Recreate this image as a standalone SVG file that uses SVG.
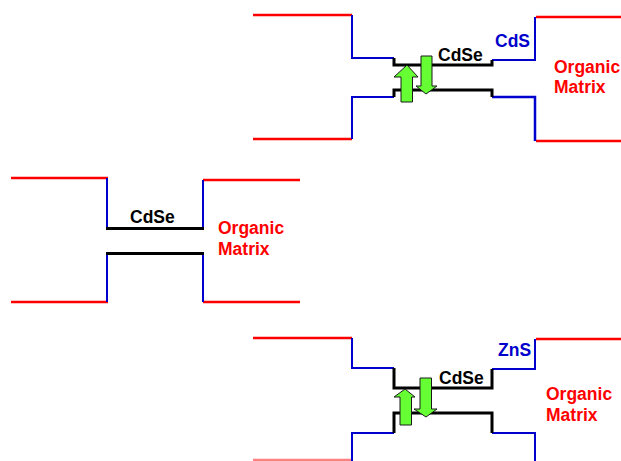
<svg xmlns="http://www.w3.org/2000/svg" width="621" height="461" viewBox="0 0 621 461">
<style>
.r{fill:none;stroke:#ff0000;stroke-width:2.5}
.b{fill:none;stroke:#0000cc;stroke-width:2;stroke-linejoin:miter}
.k{fill:none;stroke:#000;stroke-width:3;stroke-linejoin:miter}
.g{fill:#66ff33;stroke:#1a1a1a;stroke-width:1}
text{font-family:"Liberation Sans",Arial,sans-serif;font-weight:bold;font-size:17.5px}
.tk{fill:#000}.tb{fill:#0000cc}.tr{fill:#ff0000}
</style>
<rect width="621" height="461" fill="#fff"/>
<g id="top">
<path class="r" d="M253 15H352"/>
<path class="r" d="M536 17H621"/>
<path class="r" d="M253 139H352"/>
<path class="r" d="M536 141H621"/>
<path class="b" d="M352 15V58H394"/>
<path class="b" d="M492 60H535V17"/>
<path class="b" d="M352 139V97H394"/>
<path class="b" d="M492 97H535V141" style="stroke-width:2.5"/>
<path class="k" d="M394 58V65H492V60"/>
<path class="k" d="M394 97V90H492V97"/>
<polygon class="g" points="401,102 412.5,102 412.5,77 418,77 407,65 394,77 401,77"/>
<polygon class="g" points="421,56 432,56 432,86 437,86 426,94 416,86 421,86"/>
<text class="tk" x="438" y="61">CdSe</text>
<text class="tb" x="495" y="47">CdS</text>
<text class="tr" x="554" y="73">Organic</text>
<text class="tr" x="554" y="93">Matrix</text>
</g>
<g id="middle">
<path class="r" d="M11 178H108"/>
<path class="r" d="M203 180H300"/>
<path class="r" d="M11 302H108"/>
<path class="r" d="M203 302H300"/>
<path class="b" d="M107 178V228"/>
<path class="b" d="M203 228V180"/>
<path class="b" d="M107 253V302"/>
<path class="b" d="M203 253V302"/>
<path class="k" d="M106 228.5H204"/>
<path class="k" d="M106 253.5H204"/>
<text class="tk" x="130" y="223">CdSe</text>
<text class="tr" x="218" y="234">Organic</text>
<text class="tr" x="218" y="255">Matrix</text>
</g>
<g id="bottom">
<path class="r" d="M253 338H352"/>
<path class="r" d="M536 339H621"/>
<path class="r" d="M253 460H352" style="stroke:#ff8080"/>
<path class="b" d="M352 338V368H394"/>
<path class="b" d="M492 369H535V339"/>
<path class="b" d="M352 461V433H394"/>
<path class="b" d="M492 433H535V461"/>
<path class="k" d="M394 368V388H492V369"/>
<path class="k" d="M394 433V413H492V433"/>
<polygon class="g" points="400,425 411.5,425 411.5,397 415,397 405,389 394,397 400,397"/>
<polygon class="g" points="420,378 431.5,378 431.5,409 437,409 426,417 414,409 420,409"/>
<text class="tk" x="439" y="384">CdSe</text>
<text class="tb" x="498" y="356">ZnS</text>
<text class="tr" x="546" y="400">Organic</text>
<text class="tr" x="546" y="421">Matrix</text>
</g>
</svg>
